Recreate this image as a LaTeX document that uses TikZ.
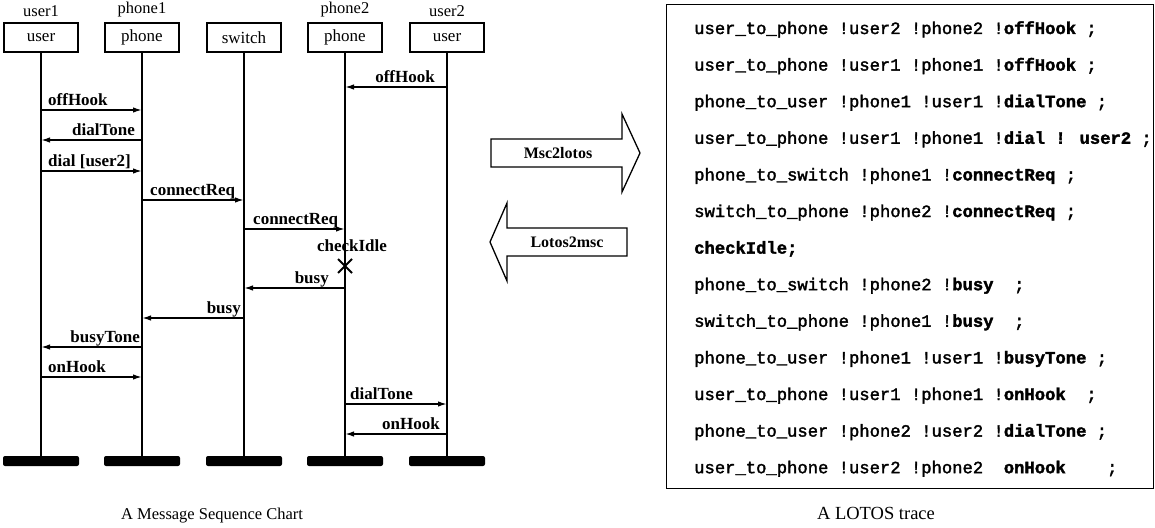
\documentclass[tikz,border=0pt]{standalone}
\usepackage{fontspec}
\setmainfont{Liberation Serif}
\newfontfamily\tracefont{Liberation Mono}[FakeBold=2]
\usetikzlibrary{arrows.meta,calc}

\begin{document}
\begin{tikzpicture}[x=1pt,y=-1pt,
  headbox/.style={draw,line width=1.3pt,minimum width=74pt,minimum height=29pt,
    inner sep=0pt,font=\fontsize{17}{17}\selectfont},
  instname/.style={font=\fontsize{16.5}{16.5}\selectfont,anchor=south,inner sep=0pt},
  lifeline/.style={line width=1.2pt},
  endbar/.style={fill=black,rounded corners=2pt,minimum width=76pt,
    minimum height=10pt,inner sep=0pt},
  msgline/.style={line width=1.6pt,-{Latex[length=9pt,width=5.5pt]}},
  lblL/.style={font=\bfseries\fontsize{17}{17}\selectfont,inner sep=0pt,anchor=base west},
  lblR/.style={font=\bfseries\fontsize{17}{17}\selectfont,inner sep=0pt,anchor=base east},
  blockarrow/.style={draw,line width=1.3pt,line join=miter},
  arrowtext/.style={font=\bfseries\fontsize{16}{16}\selectfont,inner sep=0pt},
  traceline/.style={font=\tracefont\fontsize{17.2}{17.2}\selectfont,anchor=base west,inner sep=0pt},
  caption/.style={font=\fontsize{16.5}{16.5}\selectfont,anchor=base,inner sep=0pt}
]
\useasboundingbox (0,0) rectangle (1155,527);

% ---- instance heads ----
\node[headbox] (hu1) at (41,37.5)  {user};
\node[headbox] (hp1) at (142,37.5) {phone};
\node[headbox] (hsw) at (244,37.5) {switch};
\node[headbox] (hp2) at (345,37.5) {phone};
\node[headbox] (hu2) at (447,37.5) {user};

\node[instname] (nu1) at ($(hu1.north)+(0,-5)$) {user1};
\node[instname] (np1) at ($(hp1.north)+(0,-5)$) {phone1};
\node[instname] (np2) at ($(hp2.north)+(0,-5)$) {phone2};
\node[instname] (nu2) at ($(hu2.north)+(0,-5)$) {user2};

% ---- instance ends ----
\node[endbar] (eu1) at (41,461)  {};
\node[endbar] (ep1) at (142,461) {};
\node[endbar] (esw) at (244,461) {};
\node[endbar] (ep2) at (345,461) {};
\node[endbar] (eu2) at (447,461) {};

% ---- lifelines ----
\foreach \i in {u1,p1,sw,p2,u2}
  \draw[lifeline] (h\i) -- (e\i);

% ---- messages ----
\draw[msgline] (hu2 |- 0,87) -- (hp2 |- 0,87);
\node[lblR] at ($(hu2 |- 0,87)+(-12,-5)$) {offHook};

\draw[msgline] (hu1 |- 0,110) -- (hp1 |- 0,110);
\node[lblL] at ($(hu1 |- 0,110)+(7,-5)$) {offHook};

\draw[msgline] (hp1 |- 0,140) -- (hu1 |- 0,140);
\node[lblR] at ($(hp1 |- 0,140)+(-7,-5)$) {dialTone};

\draw[msgline] (hu1 |- 0,171) -- (hp1 |- 0,171);
\node[lblL] at ($(hu1 |- 0,171)+(7,-5)$) {dial [user2]};

\draw[msgline] (hp1 |- 0,200) -- (hsw |- 0,200);
\node[lblL] at ($(hp1 |- 0,200)+(8,-5)$) {connectReq};

\draw[msgline] (hsw |- 0,229) -- (hp2 |- 0,229);
\node[lblL] at ($(hsw |- 0,229)+(9,-5)$) {connectReq};

% local action with its cross
\node[lblL,anchor=base] (chk) at (352,251) {checkIdle};
\coordinate (xm) at (hp2 |- 0,266);
\draw[line width=1.8pt] ($(xm)+(-7,-7)$) -- ($(xm)+(7,7)$)
                        ($(xm)+(-7,7)$) -- ($(xm)+(7,-7)$);

\draw[msgline] (hp2 |- 0,288) -- (hsw |- 0,288);
\node[lblR] at ($(hp2 |- 0,288)+(-16,-5)$) {busy};

\draw[msgline] (hsw |- 0,318) -- (hp1 |- 0,318);
\node[lblR] at ($(hsw |- 0,318)+(-3,-5)$) {busy};

\draw[msgline] (hp1 |- 0,347) -- (hu1 |- 0,347);
\node[lblR] at ($(hp1 |- 0,347)+(-2,-5)$) {busyTone};

\draw[msgline] (hu1 |- 0,377) -- (hp1 |- 0,377);
\node[lblL] at ($(hu1 |- 0,377)+(7,-5)$) {onHook};

\draw[msgline] (hp2 |- 0,404) -- (hu2 |- 0,404);
\node[lblL] at ($(hp2 |- 0,404)+(5,-5)$) {dialTone};

\draw[msgline] (hu2 |- 0,434) -- (hp2 |- 0,434);
\node[lblR] at ($(hu2 |- 0,434)+(-7,-5)$) {onHook};

\node[caption] (capm) at (212,519) {A Message Sequence Chart};

% ---- translation arrows ----
\draw[blockarrow] (491,139) -- (622,139) -- (622,114) -- (640,153)
  -- (622,192) -- (622,167) -- (491,167) -- cycle;
\node[arrowtext] (m2l) at (558,153) {Msc2lotos};

\draw[blockarrow] (627,228) -- (507,228) -- (507,203) -- (490,242)
  -- (507,281) -- (507,256) -- (627,256) -- cycle;
\node[arrowtext] (l2m) at (567,242) {Lotos2msc};

% ---- LOTOS trace ----
\node[draw,line width=1.3pt,anchor=north west,minimum width=487pt,
  minimum height=484pt,inner sep=0pt] (trace) at (666,4) {};
\foreach \txt [count=\k from 0] in {
  {user\_to\_phone !user2 !phone2 !\textbf{offHook} ;},
  {user\_to\_phone !user1 !phone1 !\textbf{offHook} ;},
  {phone\_to\_user !phone1 !user1 !\textbf{dialTone} ;},
  {user\_to\_phone !user1 !phone1 !\textbf{dial ! user2} ;},
  {phone\_to\_switch !phone1 !\textbf{connectReq} ;},
  {switch\_to\_phone !phone2 !\textbf{connectReq} ;},
  {\textbf{checkIdle;}},
  {phone\_to\_switch !phone2 !\textbf{busy}\ \ ;},
  {switch\_to\_phone !phone1 !\textbf{busy}\ \ ;},
  {phone\_to\_user !phone1 !user1 !\textbf{busyTone} ;},
  {user\_to\_phone !user1 !phone1 !\textbf{onHook}\ \ ;},
  {phone\_to\_user !phone2 !user2 !\textbf{dialTone} ;},
  {user\_to\_phone !user2 !phone2\ \ \textbf{onHook}\ \ \ \ ;}}
  \node[traceline] (t\k) at ($(trace.north west)+(28,30+36.6*\k)$) {\txt};

\node[caption,font=\fontsize{18.5}{18.5}\selectfont] (capl) at (876,519) {A LOTOS trace};
\end{tikzpicture}
\end{document}
